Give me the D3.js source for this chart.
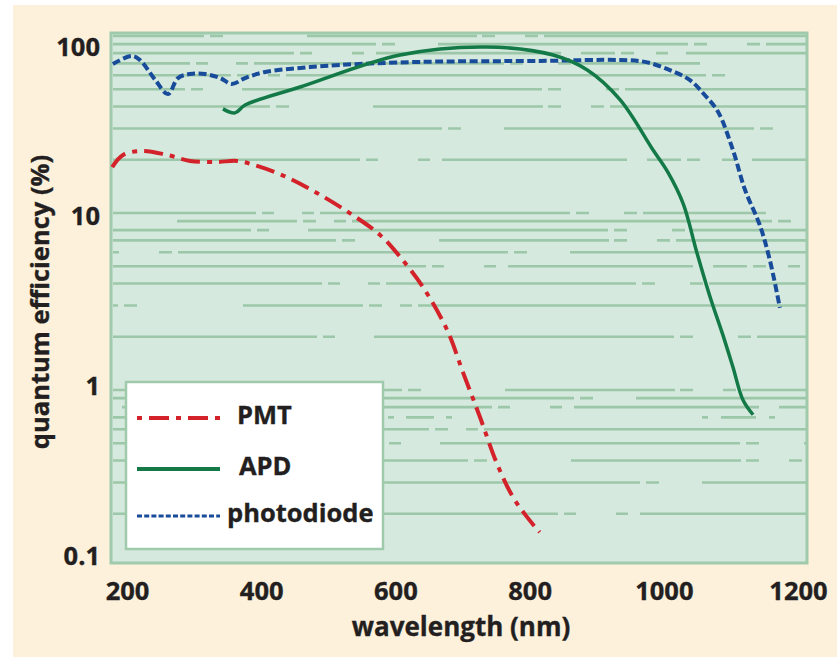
<!DOCTYPE html>
<html>
<head>
<meta charset="utf-8">
<script src="https://cdnjs.cloudflare.com/ajax/libs/d3/7.8.5/d3.min.js"></script>
<style>
body { margin:0; background:#ffffff; }
svg text { font-family:"Open Sans", "DejaVu Sans", sans-serif; font-weight:700; fill:#231f20; stroke:#231f20; stroke-width:0.35px; }
</style>
</head>
<body>
<svg id="chart"></svg>
<script>
// values (wavelength in nm, quantum efficiency in %)
var pmtWave = [178, 194, 224, 260, 294, 334, 364, 394, 438, 483, 532, 577, 607, 641, 677, 701, 726, 751, 775, 796, 815];
var pmtQE   = [19.6, 23.1, 24.4, 23.1, 21.3, 21.0, 21.3, 19.9, 17.1, 13.8, 10.5, 7.81, 5.79, 3.85, 2.15, 1.20, 0.66, 0.353, 0.223, 0.170, 0.138];

var apdWave = [343, 361, 376, 458, 607, 736, 835, 886, 935, 984, 1006, 1029, 1049, 1069, 1088, 1103, 1118, 1133];
var apdQE   = [43.2, 40.9, 45.5, 58.1, 89.7, 100, 89.7, 73.2, 48.8, 24.7, 18.3, 11.9, 6.2, 3.36, 2.01, 1.30, 0.83, 0.68];

var pdWave = [179, 207, 219, 242, 261, 276, 294, 316, 339, 356, 376, 406, 458, 517, 637, 815, 935, 972, 1009, 1039, 1061, 1081, 1103, 1121, 1143, 1158, 1173];
var pdQE   = [79.4, 88.5, 84, 64, 52.8, 65.6, 69.3, 69.3, 65.6, 60.5, 65.6, 71.3, 75.2, 78.4, 81.7, 82.8, 83.8, 81.7, 73.1, 63.8, 52.1, 41.4, 24.7, 14.4, 8.93, 5.56, 2.90];

var xTicks = [200, 400, 600, 800, 1000, 1200];
var yTicks = [0.1, 1, 10, 100];
var yTickLabels = ["0.1", "1", "10", "100"];

var legendNames = ["PMT", "APD", "photodiode"];

var screen = {width:837, height:657};
var plot = {left:111, top:33, right:807, bottom:563};

// look of the decorative log paper lines
var gridDash = [
    "34 6 13 22 12 18 340 6 12 40 12 12 185 20",
    "250 6 13 40 13 6 330 6 13 43",
    "170 5 13 30 13 6 380 6 13 84",
    "300 6 13 45 13 6 280 6 12 39",
    "120 6 13 18 12 6 420 6 13 106",
    "210 6 12 28 12 6 250 6 13 35 13 6 123"
];

var styles = {
    PMT:        {color:"#d3222a", width:4,   dash:"19 7 5 7",  legendDash:"5 7 20 7"},
    APD:        {color:"#137a47", width:3.5, dash:null,        legendDash:null},
    photodiode: {color:"#184c9b", width:4,   dash:"8 3.5",     legendDash:"5 2.2"}
};

var toPoints = function(wave, qe)
{
    return wave.map(function(w, i){ return {w:w, q:qe[i]}; });
}

var initGraph = function(target)
{
    var svg = d3.select(target)
        .attr("width", screen.width)
        .attr("height", screen.height);

    // page colours
    svg.append("rect")
        .attr("width", screen.width).attr("height", screen.height)
        .attr("fill", "#ffffff");
    svg.append("rect")
        .attr("x", 13).attr("y", 5)
        .attr("width", screen.width - 13).attr("height", screen.height - 5)
        .attr("fill", "#fdf1dc");

    var xScale = d3.scaleLinear()
        .domain([200, 1200])
        .range([127, 798]);
    var yScale = d3.scaleLog()
        .domain([0.1, 100])
        .range([556, 47]);
    // the printed log paper sits a little off the tick labels
    var gridScale = d3.scaleLog()
        .domain([0.1, 100])
        .range([567, 36]);

    drawBackground(svg, gridScale);
    drawCurves(svg, xScale, yScale);
    drawLegend(svg);
    createAxes(svg, xScale, yScale);
    createLabels(svg);
}

var drawBackground = function(svg, gridScale)
{
    svg.append("clipPath").attr("id", "plotClip")
        .append("rect")
        .attr("x", plot.left).attr("y", plot.top)
        .attr("width", plot.right - plot.left)
        .attr("height", plot.bottom - plot.top);

    svg.append("rect")
        .attr("x", plot.left).attr("y", plot.top)
        .attr("width", plot.right - plot.left)
        .attr("height", plot.bottom - plot.top)
        .attr("fill", "#d6e9de");

    var gridVals = gridScale.ticks().filter(function(v){ return v > 0.1; });

    svg.append("g")
        .attr("clip-path", "url(#plotClip)")
        .selectAll("line")
        .data(gridVals)
        .enter()
        .append("line")
        .attr("x1", plot.left + 2)
        .attr("x2", plot.right)
        .attr("y1", function(d){ return gridScale(d); })
        .attr("y2", function(d){ return gridScale(d); })
        .attr("stroke", "#9cc8a9")
        .attr("stroke-width", 2.6)
        .attr("stroke-dasharray", function(d, i){ return gridDash[i % gridDash.length]; })
        .attr("stroke-dashoffset", function(d, i){ return (i * 131) % 720; });

    svg.append("rect")
        .attr("x", plot.left).attr("y", plot.top)
        .attr("width", plot.right - plot.left)
        .attr("height", plot.bottom - plot.top)
        .attr("fill", "none")
        .attr("stroke", "#9fcaab")
        .attr("stroke-width", 3);
}

var drawCurves = function(svg, xScale, yScale)
{
    var line = d3.line()
        .x(function(d){ return xScale(d.w); })
        .y(function(d){ return yScale(d.q); })
        .curve(d3.curveCatmullRom.alpha(0.5));

    var series = [
        {name:"photodiode", pts:toPoints(pdWave, pdQE)},
        {name:"APD",        pts:toPoints(apdWave, apdQE)},
        {name:"PMT",        pts:toPoints(pmtWave, pmtQE)}
    ];

    svg.append("g")
        .selectAll("path")
        .data(series)
        .enter()
        .append("path")
        .attr("d", function(s){ return line(s.pts); })
        .attr("fill", "none")
        .attr("stroke", function(s){ return styles[s.name].color; })
        .attr("stroke-width", function(s){ return styles[s.name].width; })
        .attr("stroke-dasharray", function(s){ return styles[s.name].dash; });
}

var drawLegend = function(svg)
{
    var legend = svg.append("g").classed("legend", true);

    legend.append("rect")
        .attr("x", 126).attr("y", 382)
        .attr("width", 257).attr("height", 167)
        .attr("fill", "#ffffff")
        .attr("stroke", "#9fcaab")
        .attr("stroke-width", 2.5);

    var rowY = [418, 469, 516];
    var textX = [237, 239, 227];

    var rows = legend.selectAll("g.row")
        .data(legendNames)
        .enter()
        .append("g")
        .classed("row", true)
        .attr("transform", function(d, i){ return "translate(0," + rowY[i] + ")"; });

    rows.append("line")
        .attr("x1", 137).attr("x2", 220)
        .attr("y1", 0).attr("y2", 0)
        .attr("stroke", function(d){ return styles[d].color; })
        .attr("stroke-width", function(d){ return d == "photodiode" ? 3 : 3.8; })
        .attr("stroke-dasharray", function(d){ return styles[d].legendDash; });

    rows.append("text")
        .text(function(d){ return d; })
        .attr("x", function(d, i){ return textX[i]; })
        .attr("y", 6)
        .style("font-size", "25.5px");
}

var createAxes = function(svg, xScale, yScale)
{
    var xAxis = d3.axisBottom(xScale)
        .tickValues(xTicks)
        .tickSize(0)
        .tickPadding(19)
        .tickFormat(d3.format("d"));
    var yAxis = d3.axisLeft(yScale)
        .tickValues(yTicks)
        .tickSize(0)
        .tickPadding(11)
        .tickFormat(function(d, i){ return yTickLabels[i]; });

    var gx = svg.append("g")
        .attr("transform", "translate(0," + plot.bottom + ")")
        .call(xAxis);
    var gy = svg.append("g")
        .attr("transform", "translate(" + plot.left + ",0)")
        .call(yAxis);

    [gx, gy].forEach(function(g){
        g.select(".domain").remove();
        g.selectAll("text")
            .attr("fill", "#231f20")
            .style("font-size", "25.5px")
            .style("font-family", "'Open Sans', sans-serif")
            .style("font-weight", 700);
    });
}

var createLabels = function(svg)
{
    svg.append("text")
        .text("wavelength (nm)")
        .attr("text-anchor", "middle")
        .attr("x", 461)
        .attr("y", 636)
        .style("font-size", "26px");

    svg.append("g")
        .attr("transform", "translate(49,302)")
        .append("text")
        .text("quantum efficiency (%)")
        .attr("text-anchor", "middle")
        .attr("transform", "rotate(-90)")
        .style("font-size", "25.5px");
}

initGraph("#chart");
</script>
</body>
</html>
